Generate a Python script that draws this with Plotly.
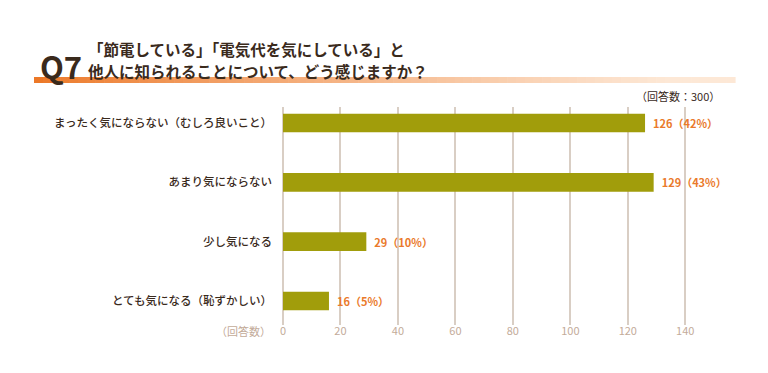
import plotly.graph_objects as go

categories = ["まったく気にならない（むしろ良いこと）", "あまり気にならない", "少し気になる", "とても気になる（恥ずかしい）"]
counts = [126, 129, 29, 16]
percents = [42, 43, 10, 5]
tick_vals = [0, 20, 40, 60, 80, 100, 120, 140]
title_lines = ["「節電している」「電気代を気にしている」と", "他人に知られることについて、どう感じますか？"]
q_label = "Q7"
n_label = "（回答数：300）"
axis_unit = "（回答数）"

W, H = 768, 373
ML, MR, MT, MB = 283, 54, 107, 48
PW, PH = W - ML - MR, H - MT - MB

def px(x):
    return (x - ML) / PW

def py(y):
    return (H - MB - y) / PH

FONT = "Noto Sans CJK JP"
BROWN = "#3a2a1c"
ORANGE = "#ea7a2b"
TAN = "#c3ab99"

labels = [f"\u00a0\u00a0{c}（{p}%）" for c, p in zip(counts, percents)]

fig = go.Figure(go.Bar(
    x=counts, y=categories, orientation="h",
    marker=dict(color="#a19d0b", line=dict(width=0)),
    width=0.315,
    text=labels, textposition="outside", cliponaxis=False,
    textfont=dict(family=FONT, size=11, color=ORANGE, weight="bold"),
))

# gradient band under title
shapes = []
x0, x1 = 34, 735
n = 80
c0 = (236, 120, 40)
c1 = (253, 232, 214)
for i in range(n):
    t = i / (n - 1)
    tt = min(1.0, t * 1.1) ** 0.85
    r = round(c0[0] + (c1[0] - c0[0]) * tt)
    g = round(c0[1] + (c1[1] - c0[1]) * tt)
    b = round(c0[2] + (c1[2] - c0[2]) * tt)
    xa = x0 + (x1 - x0) * i / n
    xb = x0 + (x1 - x0) * (i + 1) / n + 0.6
    shapes.append(dict(type="rect", xref="paper", yref="paper",
                       x0=px(xa), x1=px(xb), y0=py(83), y1=py(77),
                       fillcolor=f"rgb({r},{g},{b})", line=dict(width=0), layer="below"))

annotations = [
    dict(text=q_label, x=px(38), y=py(65), xref="paper", yref="paper", xanchor="left", yanchor="middle",
         showarrow=False, font=dict(family=FONT, size=31, color=BROWN, weight="bold")),
    dict(text=title_lines[0], x=px(86), y=py(48.5), xref="paper", yref="paper",
         xanchor="left", yanchor="middle",
         showarrow=False, font=dict(family=FONT, size=15.5, color=BROWN, weight="bold")),
    dict(text=title_lines[1], x=px(86), y=py(71), xref="paper", yref="paper",
         xanchor="left", yanchor="middle",
         showarrow=False, font=dict(family=FONT, size=15.5, color=BROWN, weight="bold")),
    dict(text=n_label, x=px(722), y=py(96), xref="paper", yref="paper", xanchor="right", yanchor="middle",
         showarrow=False, font=dict(family=FONT, size=11, color=BROWN)),
    dict(text=axis_unit, x=px(273), y=py(331), xref="paper", yref="paper", xanchor="right", yanchor="middle",
         showarrow=False, font=dict(family=FONT, size=11, color=TAN)),
]

fig.update_layout(
    width=W, height=H,
    margin=dict(l=ML, r=MR, t=MT, b=MB, pad=0),
    paper_bgcolor="white", plot_bgcolor="white",
    showlegend=False,
    shapes=shapes, annotations=annotations,
    xaxis=dict(range=[0, 150], tickvals=tick_vals, showgrid=True, gridcolor="#d9cec4", gridwidth=2,
               zeroline=True, zerolinecolor="#d9cec4", zerolinewidth=2, showline=False, ticks="",
               tickfont=dict(family=FONT, size=11, color=TAN), ticklabelstandoff=-2),
    yaxis=dict(categoryorder="array", categoryarray=categories, range=[3.405, -0.27],
               showgrid=False, zeroline=False, showline=False, ticks="", ticklabelstandoff=10,
               tickfont=dict(family=FONT, size=11.5, color=BROWN, weight=500)),
    font=dict(family=FONT),
)

fig.write_html("out.html", config={"displayModeBar": False},
               post_script="document.body.style.margin='0';document.body.style.padding='0';")
